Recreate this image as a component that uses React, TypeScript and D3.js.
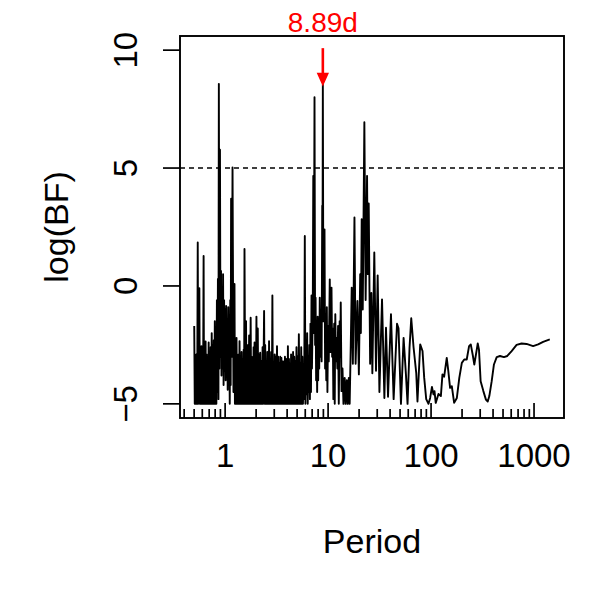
import React, { useRef, useEffect } from 'react';
import * as d3 from 'd3';

// [period (days), log(BF)], split by decade
const shortPeriods: [number, number][] = [
    [0.501, -1.7], [0.507, -5], [0.513, -3.1], [0.519, -5], [0.525, -2.9], [0.531, -5],
    [0.537, -3.3], [0.542, 1.84], [0.548, -5], [0.555, -2.7], [0.562, -0.1], [0.568, -5],
    [0.575, -2.9], [0.582, -5], [0.589, -2.55], [0.596, -5], [0.603, -3.0], [0.610, -5],
    [0.618, 1.27], [0.624, -5], [0.631, -2.6], [0.638, -5], [0.646, -2.35], [0.653, -5],
    [0.661, -2.9], [0.668, -5], [0.676, -3.3], [0.684, -5], [0.692, -2.4], [0.700, -5],
    [0.708, -3.0], [0.716, -5], [0.724, -2.6], [0.733, -5], [0.741, -2.0], [0.750, -5],
    [0.759, -2.5], [0.767, -5], [0.776, -2.3], [0.785, -5], [0.794, -1.5], [0.803, -5],
    [0.813, -2.2], [0.822, -5], [0.832, -0.6], [0.842, -4.5], [0.851, 0.3], [0.861, -4.8],
    [0.869, 8.57], [0.880, -3.5], [0.891, 5.78], [0.901, -3.0], [0.912, 0.64], [0.922, -3.8],
    [0.933, -0.9], [0.944, -3.5], [0.955, 0.5], [0.966, -4.2], [0.977, -0.6], [0.988, -3.6],
];

const midPeriods: [number, number][] = [
    [1.000, -1.0], [1.012, -4.0], [1.023, -0.85], [1.035, -3.6], [1.047, -1.5], [1.059, -4.4],
    [1.072, -0.9], [1.084, -4.0], [1.096, -1.4], [1.109, -5], [1.122, -0.6], [1.132, -4.2],
    [1.143, 3.7], [1.160, -3.0], [1.180, 5.03], [1.205, -4.5], [1.233, 0.08], [1.245, -5],
    [1.260, -2.6], [1.275, -5], [1.290, -2.2], [1.305, -5], [1.318, -3.0], [1.333, -5],
    [1.349, -2.9], [1.365, -5], [1.380, -2.34], [1.396, -5], [1.413, -3.2], [1.429, -5],
    [1.445, -2.8], [1.460, -5], [1.479, -3.1], [1.495, -5], [1.514, -2.7], [1.528, -5],
    [1.542, 1.57], [1.568, -5], [1.596, -1.5], [1.614, -5], [1.632, -2.8], [1.650, -5],
    [1.670, -2.5], [1.690, -5], [1.710, -2.1], [1.740, -5], [1.770, -1.35], [1.790, -5],
    [1.810, -3.0], [1.830, -5], [1.850, -3.2], [1.870, -5], [1.890, -2.6], [1.910, -5],
    [1.930, -2.4], [1.950, -5], [1.970, -2.9], [1.990, -5], [2.014, -1.3], [2.040, -5],
    [2.075, -1.8], [2.100, -5], [2.130, -2.9], [2.160, -5], [2.190, -2.83], [2.220, -5],
    [2.250, -3.2], [2.280, -5], [2.310, -2.6], [2.340, -5], [2.390, -1.06], [2.420, -5],
    [2.450, -2.5], [2.480, -5], [2.510, -3.2], [2.540, -5], [2.570, -2.8], [2.600, -5],
    [2.630, -3.0], [2.650, -5], [2.670, -2.34], [2.700, -5], [2.730, -3.3], [2.760, -5],
    [2.800, -2.8], [2.840, -5], [2.877, -0.4], [2.910, -5], [2.950, -3.2], [2.990, -5],
    [3.030, -2.9], [3.070, -5], [3.110, -3.0], [3.150, -5], [3.190, -2.55], [3.230, -5],
    [3.270, -3.0], [3.310, -5], [3.350, -3.3], [3.390, -5], [3.430, -3.0], [3.470, -5],
    [3.520, -3.05], [3.560, -5], [3.610, -3.2], [3.660, -5], [3.710, -3.2], [3.760, -5],
    [3.810, -3.0], [3.860, -5], [3.910, -3.1], [3.960, -5], [4.010, -3.3], [4.040, -5],
    [4.070, -2.55], [4.120, -5], [4.170, -3.1], [4.220, -5], [4.270, -3.3], [4.320, -5],
    [4.370, -2.9], [4.420, -5], [4.470, -3.2], [4.520, -5], [4.570, -2.8], [4.630, -5],
    [4.690, -3.0], [4.750, -5], [4.810, -3.2], [4.870, -5], [4.930, -2.6], [4.990, -5],
    [5.060, -3.0], [5.130, -5], [5.200, -2.05], [5.270, -5], [5.340, -3.3], [5.410, -5],
    [5.480, -2.6], [5.550, -5], [5.620, -3.0], [5.700, -5], [5.780, -3.3], [5.860, -4.8],
    [5.940, 2.12], [6.020, -5], [6.100, -2.6], [6.180, -4.6], [6.260, -2.0], [6.340, -5],
    [6.420, -3.0], [6.500, -4.5], [6.580, -2.5], [6.660, -4.8], [6.740, -1.6], [6.820, -4.5],
    [6.900, -0.4], [6.970, -3.5], [7.100, -1.0], [7.180, 4.67], [7.260, -2.0], [7.380, 8.0],
    [7.480, -2.5], [7.560, -0.5], [7.650, -4.0], [7.740, -2.4], [7.830, -4.5], [7.920, -1.3],
    [8.010, -4.0], [8.100, -1.6], [8.200, -3.5], [8.300, -0.5], [8.400, -3.0], [8.520, -1.0],
    [8.650, -3.2], [8.770, 3.4], [8.820, -1.0], [8.890, 8.54], [9.000, -1.5], [9.230, 2.4],
    [9.350, -3.5], [9.450, -1.2], [9.600, -4.0], [9.720, -0.9], [9.850, -4.5],
];

const longPeriods: [number, number][] = [
    [10.00, -1.7], [10.15, -3.2], [10.38, 0.28], [10.55, -2.8], [10.79, -0.07], [10.95, -3.0],
    [11.10, -1.8], [11.25, -4.8], [11.46, -1.6], [11.60, -5], [11.75, -1.2], [11.90, -3.2],
    [12.10, -2.2], [12.30, -3.5], [12.50, -1.7], [12.70, -5], [12.95, -1.5], [13.10, -3.0],
    [13.27, -0.7], [13.50, -4.46], [13.80, -3.5], [14.10, -5], [14.50, -3.9], [14.80, -5],
    [15.20, -4.0], [15.50, -5], [15.90, -3.9], [16.20, -5], [16.60, -2.5], [16.96, -0.07],
    [17.40, -3.3], [18.03, 2.9], [18.50, -3.3], [19.27, -0.64], [19.90, -3.75], [20.50, 0.5],
    [20.80, -2.0], [21.20, 2.83], [21.70, -1.0], [22.50, 6.94], [23.15, -0.6], [23.90, 4.67],
    [24.30, 0.5], [24.80, 3.5], [25.60, -3.3], [26.30, -0.3], [26.90, -3.7], [28.10, 1.42],
    [29.20, -3.6], [30.30, 0.45], [31.50, -4.5], [33.40, -0.57], [35.20, -4.75], [36.50, -1.77],
    [38.20, -4.7], [40.80, -1.2], [43.30, -4.8], [46.70, -1.6], [48.30, -1.8], [51.00, -5],
    [54.10, -2.2], [57.00, -3.75], [59.10, -5], [61.80, -2.6], [64.20, -1.37], [67.60, -2.6],
    [71.80, -3.7], [73.80, -4.9], [78.40, -2.48], [82.60, -2.76], [85.80, -3.9], [89.70, -4.8],
    [94.40, -5], [98.00, -4.75],
];

const tailPeriods: [number, number][] = [
    [102, -4.28], [105.5, -4.6], [108, -4.46], [111, -4.96], [118, -4.58], [124.5, -4.67],
    [129, -3.75], [134, -3.85], [142, -3.05], [147, -3.6], [153, -4.32], [159, -4.25],
    [167.5, -4.96], [178, -4.75], [188, -3.9], [199, -3.26], [210, -3.12], [222, -3.12],
    [234, -2.55], [243, -2.48], [254, -2.93], [263, -3.33], [273, -2.9], [284, -2.44],
    [292, -2.7], [303, -4.04], [322, -4.46], [341, -4.82], [355, -4.9], [368, -4.67],
    [388, -4.04], [408, -3.33], [434, -3.02], [467, -2.97], [510, -3.02], [550, -2.97],
    [606, -2.76], [677, -2.5], [757, -2.44], [846, -2.46], [980, -2.55], [1096, -2.48],
    [1225, -2.37], [1422, -2.27],
];

const yTicks = [-5, 0, 5, 10];
const yLimits = [-5, 10];
const xMajorTicks = [1, 10, 100, 1000];
const xMinorTicks = [
    0.4, 0.5, 0.6, 0.7, 0.8, 0.9, 2, 3, 4, 5, 6, 7, 8, 9,
    20, 30, 40, 50, 60, 70, 80, 90, 200, 300, 400, 500, 600, 700, 800, 900,
];
const threshold = 5;
const markedPeriod = 8.89;
const markedLabel = '8.89d';

const FONT = "'Liberation Sans', Arial, Helvetica, sans-serif";

const App = () => {
    const svgRef = useRef(null);

    useEffect(() => {
        const svg = d3.select(svgRef.current);
        svg.selectAll('*').remove();

        const width = 600;
        const height = 600;
        const margin = { top: 36, right: 36, bottom: 182, left: 180 };
        const left = margin.left;
        const right = width - margin.right;
        const top = margin.top;
        const bottom = height - margin.bottom;

        const data = [...shortPeriods, ...midPeriods, ...longPeriods, ...tailPeriods];

        // R-style 4% padding on the log axis
        const [lo, hi] = d3.extent(data, d => Math.log10(d[0])) as [number, number];
        const xPad = (hi - lo) * 0.04;
        const x = d3.scaleLog()
            .domain([Math.pow(10, lo - xPad), Math.pow(10, hi + xPad)])
            .range([left, right]);

        const yPad = (yLimits[1] - yLimits[0]) * 0.04;
        const y = d3.scaleLinear()
            .domain([yLimits[0] - yPad, yLimits[1] + yPad])
            .range([bottom, top]);

        const g = svg.append('g');

        // threshold line
        g.append('line')
            .attr('x1', left).attr('x2', right)
            .attr('y1', y(threshold)).attr('y2', y(threshold))
            .attr('stroke', '#000')
            .attr('stroke-width', 1.4)
            .attr('stroke-dasharray', '5,4');

        // periodogram
        const line = d3.line<[number, number]>()
            .x(d => x(d[0]))
            .y(d => y(d[1]));

        g.append('path')
            .datum(data)
            .attr('fill', 'none')
            .attr('stroke', '#000')
            .attr('stroke-width', 1.9)
            .attr('stroke-linejoin', 'round')
            .attr('d', line);

        // box
        g.append('rect')
            .attr('x', left).attr('y', top)
            .attr('width', right - left).attr('height', bottom - top)
            .attr('fill', 'none')
            .attr('stroke', '#000')
            .attr('stroke-width', 1.9);

        // x ticks, drawn inward
        g.selectAll('.xmajor')
            .data(xMajorTicks)
            .enter().append('line')
            .attr('x1', d => x(d)).attr('x2', d => x(d))
            .attr('y1', bottom).attr('y2', bottom - 15)
            .attr('stroke', '#000').attr('stroke-width', 1.7);

        g.selectAll('.xminor')
            .data(xMinorTicks)
            .enter().append('line')
            .attr('x1', d => x(d)).attr('x2', d => x(d))
            .attr('y1', bottom).attr('y2', bottom - 9)
            .attr('stroke', '#000').attr('stroke-width', 1.7);

        g.selectAll('.xlabel')
            .data(xMajorTicks)
            .enter().append('text')
            .attr('x', d => x(d))
            .attr('y', 467)
            .attr('text-anchor', 'middle')
            .attr('font-family', FONT)
            .attr('font-size', 33)
            .text(d => String(d));

        // y ticks, outward
        g.selectAll('.ytick')
            .data(yTicks)
            .enter().append('line')
            .attr('x1', left).attr('x2', left - 17)
            .attr('y1', d => y(d)).attr('y2', d => y(d))
            .attr('stroke', '#000').attr('stroke-width', 1.7);

        g.selectAll('.ylabel')
            .data(yTicks)
            .enter().append('text')
            .attr('transform', d => `translate(137,${y(d)}) rotate(-90)`)
            .attr('text-anchor', 'middle')
            .attr('font-family', FONT)
            .attr('font-size', 33)
            .text(d => (d < 0 ? '\u2212' + Math.abs(d) : String(d)));

        // axis titles
        g.append('text')
            .attr('x', (left + right) / 2)
            .attr('y', 553)
            .attr('text-anchor', 'middle')
            .attr('font-family', FONT)
            .attr('font-size', 34)
            .text('Period');

        g.append('text')
            .attr('transform', `translate(68,${(top + bottom) / 2}) rotate(-90)`)
            .attr('text-anchor', 'middle')
            .attr('font-family', FONT)
            .attr('font-size', 34)
            .text('log(BF)');

        // arrow marking the chosen peak
        const peak = data.find(d => d[0] === markedPeriod) as [number, number];
        const ax = x(peak[0]);
        const tipY = y(peak[1]);
        const startY = y(yLimits[1]) - 2;

        g.append('line')
            .attr('x1', ax).attr('x2', ax)
            .attr('y1', startY).attr('y2', tipY - 6)
            .attr('stroke', 'red')
            .attr('stroke-width', 2.6);

        g.append('path')
            .attr('d', `M${ax - 5},${tipY - 11} L${ax + 5},${tipY - 11} L${ax},${tipY} Z`)
            .attr('fill', 'red')
            .attr('stroke', 'red')
            .attr('stroke-width', 1.5)
            .attr('stroke-linejoin', 'miter');

        g.append('text')
            .attr('x', ax)
            .attr('y', startY - 16)
            .attr('text-anchor', 'middle')
            .attr('font-family', FONT)
            .attr('font-size', 28)
            .attr('fill', 'red')
            .text(markedLabel);
    }, []);

    return (
        <svg
            ref={svgRef}
            width={600}
            height={600}
            style={{ position: 'absolute', left: 0, top: 0, background: '#fff' }}
        />
    );
};

export default App;
